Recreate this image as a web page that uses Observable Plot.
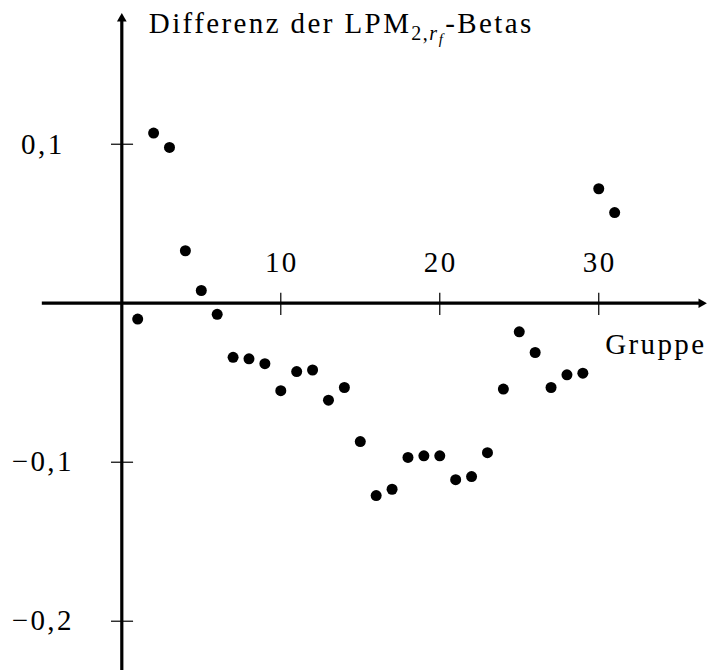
<!DOCTYPE html>
<html>
<head>
<meta charset="utf-8">
<script src="https://cdn.jsdelivr.net/npm/d3@7"></script>
<script src="https://cdn.jsdelivr.net/npm/@observablehq/plot@0.6"></script>
<style>
  body { margin: 0; background: #fff; }
</style>
</head>
<body>
<div id="chart"></div>
<script>
// Gruppen 1–31 and the difference of the LPM(2, r_f) betas per group
const gruppen = [1, 2, 3, 4, 5, 6, 7, 8, 9, 10, 11, 12, 13, 14, 15, 16,
                 17, 18, 19, 20, 21, 22, 23, 24, 25, 26, 27, 28, 29, 30, 31];
const differenz = [-0.010, 0.107, 0.098, 0.033, 0.008, -0.007, -0.034, -0.035,
                   -0.038, -0.055, -0.043, -0.042, -0.061, -0.053, -0.087, -0.121,
                   -0.117, -0.097, -0.096, -0.096, -0.111, -0.109, -0.094, -0.054,
                   -0.018, -0.031, -0.053, -0.045, -0.044, 0.072, 0.057];

const xTicks = [10, 20, 30];
const yTicks = [-0.2, -0.1, 0.1];

// extent of the two axis lines (in data units)
const xAxisExtent = [-5, 36.7];
const yAxisExtent = [-0.232, 0.183];

const titleMain = "Differenz der LPM";
const titleSub = "2,";
const titleSubVar = "r";
const titleSubSub = "f";
const titleTail = "-Betas";
const titleFull = titleMain + titleSub + titleSubVar + titleSubSub + titleTail;
const xLabel = "Gruppe";

const data = gruppen.map((g, i) => ({gruppe: g, diff: differenz[i]}));

const de = d3.formatLocale({decimal: ",", thousands: ".", grouping: [3], currency: ["", " €"], minus: "\u2212"});
const fmt = de.format(".1f");

const FS = 29;
const LS = "2.4px";
const font = "'Liberation Serif', 'DejaVu Serif', serif";

const chart = Plot.plot({
  width: 707,
  height: 670,
  margin: 0,
  x: {domain: [-7.63, 36.84], axis: null},
  y: {domain: [-0.2310, 0.1904], axis: null},
  style: {fontFamily: font, background: "#fff", color: "#000", letterSpacing: LS},
  marks: [
    // axes
    Plot.ruleY([0], {x1: xAxisExtent[0], x2: xAxisExtent[1] - 0.2, strokeWidth: 3.2, stroke: "#000"}),
    Plot.ruleX([0], {y1: yAxisExtent[0], y2: yAxisExtent[1] - 0.004, strokeWidth: 3.2, stroke: "#000"}),
    Plot.dot([xAxisExtent[1]], {x: d => d - 0.25, y: 0, symbol: "triangle", rotate: 90, r: 3.6, fill: "#000", stroke: "none"}),
    Plot.dot([yAxisExtent[1]], {x: 0, y: d => d - 0.004, symbol: "triangle", r: 3.6, fill: "#000", stroke: "none"}),
    // tick marks
    Plot.ruleX(xTicks, {x: d => d, y1: -0.0077, y2: 0.0063, strokeWidth: 1.2, stroke: "#000"}),
    Plot.ruleY(yTicks, {y: d => d, x1: -0.65, x2: 0.74, strokeWidth: 1.2, stroke: "#000"}),
    // tick labels
    Plot.text(xTicks, {x: d => d, y: 0, dy: -41, dx: 1, text: d => String(d), fontSize: FS, fill: "#000"}),
    Plot.text(yTicks, {x: 0, y: d => d, dx: -79, text: d => fmt(d), fontSize: FS, fill: "#000"}),
    // points
    Plot.dot(data, {x: "gruppe", y: "diff", r: 5.5, fill: "#000", stroke: "none"}),
    // axis labels
    Plot.text([xLabel], {frameAnchor: "right", y: 0, dy: 41, dx: -1, textAnchor: "end", lineAnchor: "middle", fontSize: FS, fill: "#000"}),
    Plot.text([titleFull], {x: 0, dx: 27, frameAnchor: "top", dy: 23, textAnchor: "start", lineAnchor: "middle", fontSize: FS, fill: "#000"})
  ]
});

// typeset the subscripts of the y-axis title
d3.select(chart).selectAll("text")
  .filter(function () { return this.textContent === titleFull; })
  .each(function () {
    const t = d3.select(this);
    t.text(null);
    t.append("tspan").text(titleMain);
    t.append("tspan").attr("dy", 7).attr("font-size", 20).attr("letter-spacing", "1.5px").text(titleSub);
    t.append("tspan").attr("font-size", 20).attr("font-style", "italic").attr("letter-spacing", "1.5px").text(titleSubVar);
    t.append("tspan").attr("dy", 4).attr("font-size", 15).attr("font-style", "italic").text(titleSubSub);
    t.append("tspan").attr("dy", -11).attr("font-size", FS).text(titleTail);
  });

document.getElementById("chart").appendChild(chart);
</script>
</body>
</html>
